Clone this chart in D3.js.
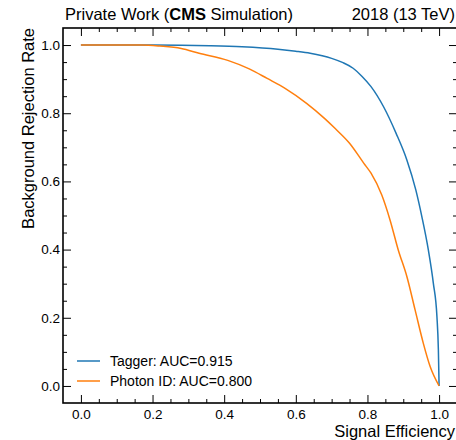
<!DOCTYPE html>
<html>
<head>
<meta charset="utf-8">
<script src="https://cdn.jsdelivr.net/npm/d3@7"></script>
<style>
  body { margin: 0; background: #fff; }
  text { font-family: "Liberation Sans", Arial, sans-serif; fill: #000; }
</style>
</head>
<body>
<div id="roc"></div>
<script>
// data
var taggerEff = [0, 0.2, 0.36, 0.45, 0.55, 0.6, 0.64, 0.7, 0.73, 0.76, 0.785, 0.81, 0.845, 0.88, 0.91, 0.935, 0.952, 0.97, 0.984, 0.994, 0.998, 1.0];
var taggerRej = [1.0, 1.0, 0.998, 0.995, 0.988, 0.982, 0.976, 0.961, 0.949, 0.932, 0.908, 0.878, 0.819, 0.741, 0.663, 0.575, 0.496, 0.399, 0.301, 0.203, 0.106, 0.0];
var photonEff = [0, 0.17, 0.22, 0.28, 0.33, 0.41, 0.47, 0.52, 0.57, 0.63, 0.68, 0.71, 0.75, 0.79, 0.81, 0.84, 0.863, 0.886, 0.91, 0.933, 0.956, 0.975, 1.0];
var photonRej = [1.0, 1.0, 0.997, 0.99, 0.976, 0.955, 0.93, 0.902, 0.873, 0.829, 0.785, 0.755, 0.712, 0.653, 0.624, 0.56, 0.487, 0.399, 0.321, 0.223, 0.125, 0.057, 0.0];
var seriesNames = ["Tagger: AUC=0.915", "Photon ID: AUC=0.800"];
var seriesColors = ["#1f77b4", "#ff7f0e"];
var tickValues = [0, 0.2, 0.4, 0.6, 0.8, 1.0];

var svgWidth = 456;
var svgHeight = 440;

// plot box (right spine sits just past the edge of the picture)
var margin = {top: 28, right: -1, bottom: 37, left: 63};
var width = svgWidth - margin.left - margin.right;
var height = svgHeight - margin.top - margin.bottom;

var svg = d3.select("#roc")
  .append("svg")
  .attr("width", svgWidth)
  .attr("height", svgHeight);

var chartGroup = svg.append("g")
  .attr("transform", `translate(${margin.left}, ${margin.top})`);

var xLinearScale = d3.scaleLinear()
  .domain([-0.05, 1.05])
  .range([0, width]);

var yLinearScale = d3.scaleLinear()
  .domain([-0.05, 1.05])
  .range([height, 0]);

var minorTicks = d3.range(-0.05, 1.06, 0.05).map(d => +d.toFixed(2))
  .filter(d => tickValues.indexOf(d) < 0 && d > -0.05 && d < 1.05);

// inward ticks on all four sides
function drawAxis(axisFn, scale, transform, pad) {
  var major = chartGroup.append("g")
    .attr("transform", transform)
    .call(axisFn(scale).tickValues(tickValues).tickSizeInner(-8).tickSizeOuter(0)
      .tickPadding(pad || 0).tickFormat(pad ? d3.format(".1f") : ""));
  major.select(".domain").remove();
  major.selectAll("text").style("font-size", "13.5px");
  var minor = chartGroup.append("g")
    .attr("transform", transform)
    .call(axisFn(scale).tickValues(minorTicks).tickSizeInner(-4).tickSizeOuter(0).tickFormat(""));
  minor.select(".domain").remove();
}

drawAxis(d3.axisBottom, xLinearScale, `translate(0, ${height})`, 6);
drawAxis(d3.axisTop, xLinearScale, "translate(0, 0)", 0);
drawAxis(d3.axisLeft, yLinearScale, "translate(0, 0)", 3);
drawAxis(d3.axisRight, yLinearScale, `translate(${width}, 0)`, 0);

chartGroup.selectAll(".tick line").attr("stroke", "#000").attr("stroke-width", 1);

// spines
chartGroup.append("rect")
  .attr("width", width)
  .attr("height", height)
  .attr("fill", "none")
  .attr("stroke", "#000")
  .attr("stroke-width", 1.6);

// curves
var line = d3.line()
  .curve(d3.curveMonotoneX)
  .x(d => xLinearScale(d[0]))
  .y(d => yLinearScale(d[1]));

var curves = [d3.zip(taggerEff, taggerRej), d3.zip(photonEff, photonRej)];

chartGroup.selectAll(".roc")
  .data(curves)
  .enter()
  .append("path")
  .attr("class", "roc")
  .attr("d", line)
  .attr("fill", "none")
  .attr("stroke", (d, i) => seriesColors[i])
  .attr("stroke-width", 1.5);

// legend
var legend = chartGroup.selectAll(".legend")
  .data(seriesNames)
  .enter()
  .append("g")
  .attr("class", "legend")
  .attr("transform", (d, i) => `translate(14, ${361 - margin.top + i * 20})`);

legend.append("line")
  .attr("x1", 0)
  .attr("x2", 23)
  .attr("stroke", (d, i) => seriesColors[i])
  .attr("stroke-width", 1.5);

legend.append("text")
  .attr("x", 33)
  .attr("dy", "0.35em")
  .style("font-size", "14px")
  .text(d => d);

// axis labels
svg.append("text")
  .attr("transform", "rotate(-90)")
  .attr("x", -margin.top)
  .attr("y", 34)
  .attr("text-anchor", "end")
  .style("font-size", "16.5px")
  .text("Background Rejection Rate");

svg.append("text")
  .attr("x", 455)
  .attr("y", 437)
  .attr("text-anchor", "end")
  .style("font-size", "16.5px")
  .text("Signal Efficiency");

// header
var header = svg.append("text")
  .attr("x", 65)
  .attr("y", 20)
  .style("font-size", "16.5px");
header.append("tspan").text("Private Work (");
header.append("tspan").style("font-weight", "bold").text("CMS");
header.append("tspan").text(" Simulation)");

svg.append("text")
  .attr("x", 455)
  .attr("y", 20)
  .attr("text-anchor", "end")
  .style("font-size", "16.5px")
  .text("2018 (13 TeV)");
</script>
</body>
</html>
